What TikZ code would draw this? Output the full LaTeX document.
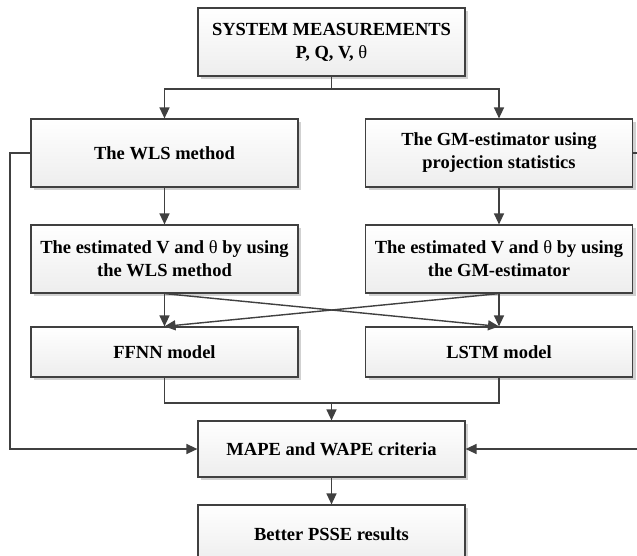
\documentclass[tikz,border=0pt]{standalone}
\usepackage{fontspec}
\setmainfont{Liberation Serif}
\usetikzlibrary{arrows.meta,shadows}
\definecolor{linecol}{HTML}{404040}
\newcommand{\thetareg}{{\mdseries θ}}
\tikzset{
  box/.style={draw=linecol, line width=1.2pt, top color=white, bottom color=gray!14,
    minimum width=267pt, inner sep=0pt, align=center,
    font=\fontsize{18.5}{23}\selectfont\bfseries,
    drop shadow={shadow xshift=3pt, shadow yshift=-3pt, fill=black!18, opacity=1}},
  conn/.style={draw=linecol, line width=1.4pt},
  arr/.style={conn, -{Triangle[length=11pt,width=10pt]}}
}
\begin{document}
\begin{tikzpicture}[x=1pt,y=-1pt]
\useasboundingbox (0,0) rectangle (637,555);
\clip (0,0) rectangle (637,555);
\fill[white] (0,0) rectangle (637,555);
\node[box, minimum height=68pt] (top) at (331.5,42) {SYSTEM MEASUREMENTS\\P, Q, V, \thetareg};
\node[box, minimum height=68pt] (wls) at (164.5,153) {The WLS method};
\node[box, minimum height=68pt] (gm) at (499,153) {The GM-estimator using\\projection statistics};
\node[box, minimum height=68pt] (estA) at (164.5,259) {The estimated V and \thetareg{} by using\\the WLS method};
\node[box, minimum height=68pt] (estB) at (499,259) {The estimated V and \thetareg{} by using\\the GM-estimator};
\node[box, minimum height=50pt] (ffnn) at (164.5,352) {FFNN model};
\node[box, minimum height=50pt] (lstm) at (499,352) {LSTM model};
\node[box, minimum height=56pt] (mape) at (331.5,449) {MAPE and WAPE criteria};
\node[box, minimum height=58pt] (better) at (331.5,534) {Better PSSE results};
\coordinate (split) at (331.5,89);
\coordinate (join) at (331.5,403);
\coordinate (lcorner) at (10,449);
\coordinate (rcorner) at (650,449);
\draw[conn] (top.south) -- (split);
\draw[arr] (split) -| (wls.north);
\draw[arr] (split) -| (gm.north);
\draw[arr] (wls) -- (estA);
\draw[arr] (gm) -- (estB);
\draw[arr] (estA.south) -- (ffnn.north);
\draw[arr] (estA.south) -- (lstm.north);
\draw[arr] (estB.south) -- (lstm.north);
\draw[arr] (estB.south) -- (ffnn.north);
\draw[conn] (ffnn.south) |- (join);
\draw[conn] (lstm.south) |- (join);
\draw[arr] (join) -- (mape.north);
\draw[arr] (mape) -- (better);
\draw[arr] (wls.west) -| (lcorner) -- (mape.west);
\draw[arr] (gm.east) -| (rcorner) -- (mape.east);
\end{tikzpicture}
\end{document}
